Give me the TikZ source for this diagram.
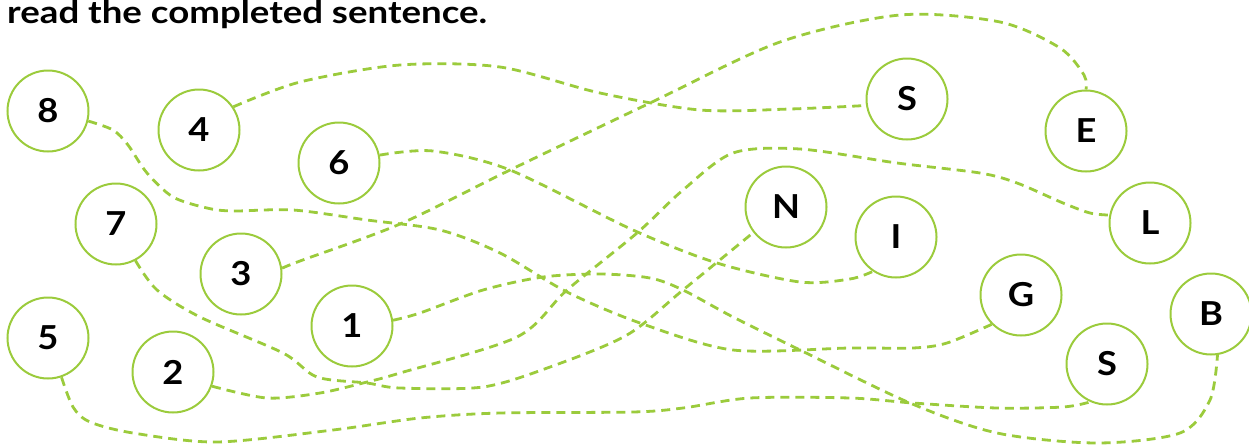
\documentclass[tikz,border=0pt]{standalone}
\usepackage{fontspec}
\setmainfont{Lato}
\newfontfamily\titlefont[FakeStretch=1.17]{Lato}
\newfontfamily\labelfont[FakeStretch=1.1]{Lato}
\definecolor{lgreen}{RGB}{155,203,60}
\begin{document}
\begin{tikzpicture}[x=1pt,y=-1pt,
  circ/.style={circle,draw=lgreen,line width=2pt,minimum size=81pt,inner sep=0pt,font=\labelfont\fontsize{33}{33}\selectfont\bfseries,text=black},
  conn/.style={draw=lgreen,line width=2.8pt,dash pattern=on 9pt off 6pt},
  title/.style={font=\titlefont\fontsize{31.3}{31}\selectfont\bfseries,anchor=base west,inner sep=0pt}]
\useasboundingbox (0,0) rectangle (1249,445);
\node[title] (t) at (7,23) {read the completed sentence.};
\node[circ] (n8) at (48,111) {8};
\node[circ] (n4) at (199,130) {4};
\node[circ] (n6) at (339,163) {6};
\node[circ] (n7) at (116,224) {7};
\node[circ] (n3) at (241,274) {3};
\node[circ] (n1) at (352,326) {1};
\node[circ] (n5) at (48,338) {5};
\node[circ] (n2) at (173,372) {2};
\node[circ] (cN) at (786,207) {N};
\node[circ] (cS) at (907,99) {S};
\node[circ] (cE) at (1086,131) {E};
\node[circ] (cL) at (1150,223) {L};
\node[circ] (cI) at (896,237) {I};
\node[circ] (cG) at (1021,295) {G};
\node[circ] (cT) at (1107,364) {S};
\node[circ] (cB) at (1211,314) {B};
% 4 -> S
\draw[conn] plot[smooth] coordinates {(n4.34) (300,82) (400,65) (500,67) (600,93) (700,110) (790,109) (cS.189)};
% 3 -> E
\draw[conn] plot[smooth] coordinates {(n3.8) (300,261) (400,224) (510,170) (650,103) (780,42) (900,15) (1000,22) (1060,48) (1084,75) (cE.90)};
% 6 -> I
\draw[conn] plot[smooth] coordinates {(n6.11) (433,151) (510,170) (633,230) (717,263) (800,282) (850,279) (cI.236)};
% 1 -> B
\draw[conn] plot[smooth] coordinates {(n1.8) (420,313) (483,290) (543,277) (600,274) (650,278) (683,290) (733,317) (800,350) (910,403) (997,433) (1097,443) (1180,433) (1210,400) (cB.279)};
% 2 -> L
\draw[conn] plot[smooth] coordinates {(n2.340) (267,398) (320,393) (367,382) (400,373) (517,337) (567,290) (637,233) (683,190) (733,153) (800,149) (897,163) (980,173) (1017,183) (1063,203) (1090,213) (cL.169)};
% 8 -> G
\draw[conn] plot[smooth] coordinates {(n8.-14) (113,130) (128,145) (147,173) (173,197) (207,208) (233,211) (293,210) (367,220) (440,230) (500,253) (567,292) (640,323) (733,350) (850,348) (913,348) (947,343) (cG.225)};
% 7 -> N
\draw[conn] plot[smooth] coordinates {(n7.298) (157,290) (200,317) (283,353) (317,377) (367,383) (400,388) (483,387) (550,367) (627,335) (683,290) (cN.218)};
% 5 -> S
\draw[conn] plot[smooth] coordinates {(n5.289) (73,407) (90,422) (133,433) (217,442) (333,430) (420,418) (500,413) (633,412) (683,408) (750,398) (850,398) (913,403) (997,408) (1063,407) (cT.246)};
\end{tikzpicture}
\end{document}
